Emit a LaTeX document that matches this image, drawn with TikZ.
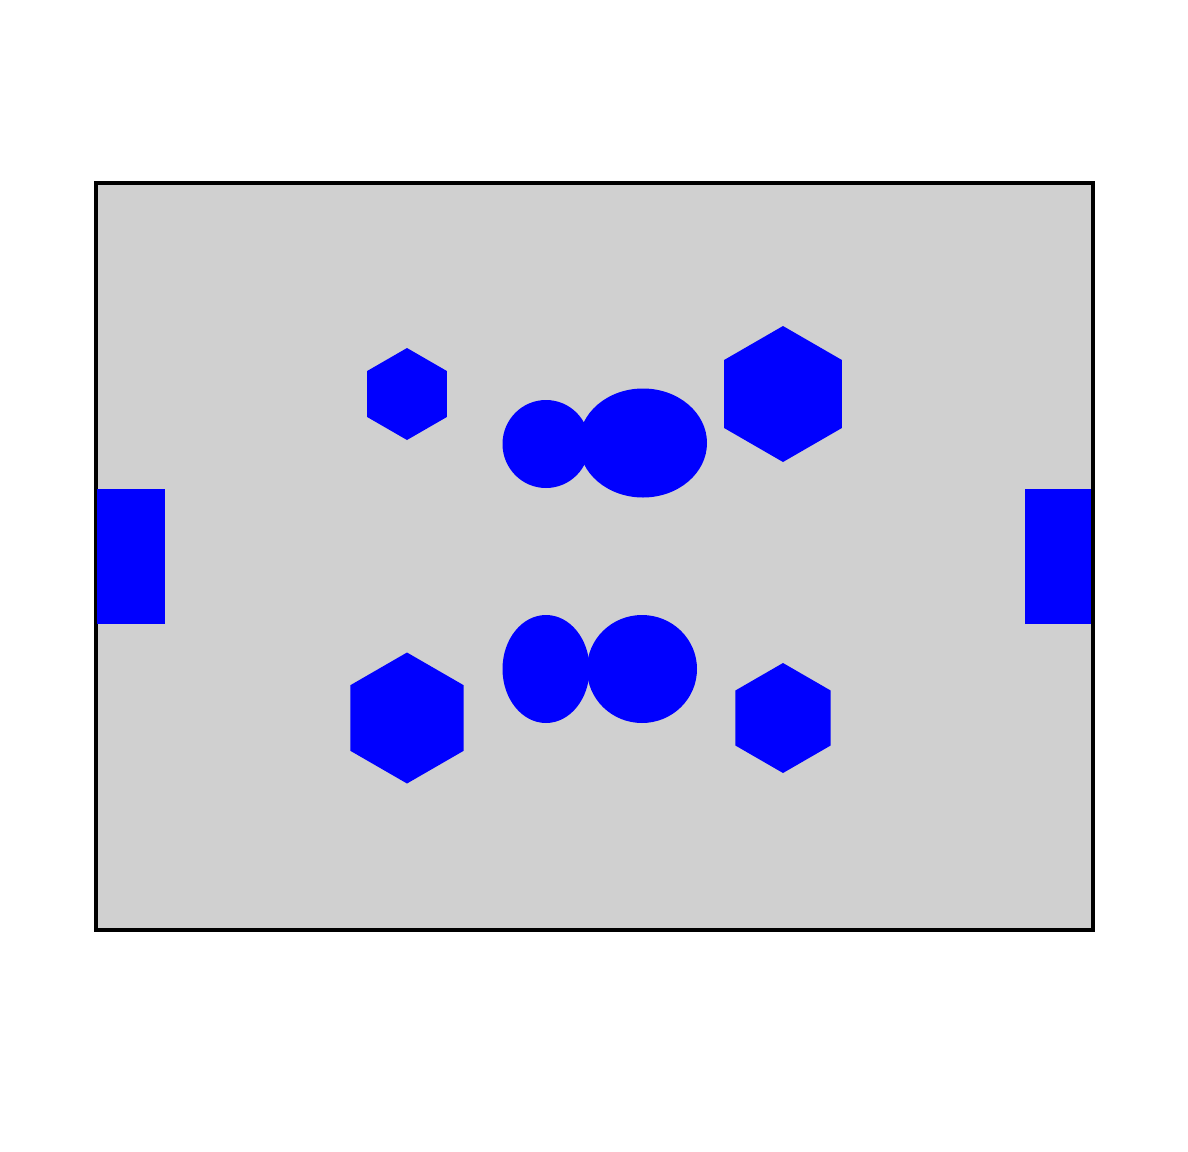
\documentclass[tikz,border=0pt]{standalone}
\usepackage{tikz}
\usetikzlibrary{positioning,shapes}
\definecolor{panelgray}{RGB}{208,208,208}
\tikzset{
  part/.style={fill=blue,draw=none},
  panel/.style={fill=panelgray,draw=black,line width=2.4pt}
}
\begin{document}
\begin{tikzpicture}[x=0.5pt,y=-0.5pt]
  \useasboundingbox (0,0) rectangle (1188,1151);
  \draw[panel] (96,183) rectangle (1093,930);
  % side blocks
  \fill[part] (97,489) rectangle (165,624);
  \fill[part] (1025,489) rectangle (1091,624);
  % hexagons: centre x, centre y, radius
  \foreach \cx/\cy/\r in {407/394/46, 783/394/68, 407/718/65.5, 783/718/55}
    \fill[part] (\cx,\cy) ++(90:\r) -- ++(210:\r) -- ++(270:\r) -- ++(330:\r)
      -- ++(30:\r) -- ++(90:\r) -- cycle;
  % round parts
  \fill[part] (546,444) ellipse [x radius=43.5, y radius=44];
  \fill[part] (643,443) ellipse [x radius=64, y radius=54.5];
  \fill[part] (546,669) ellipse [x radius=43.5, y radius=54];
  \fill[part] (642,669) ellipse [x radius=55, y radius=54];
\end{tikzpicture}
\end{document}
